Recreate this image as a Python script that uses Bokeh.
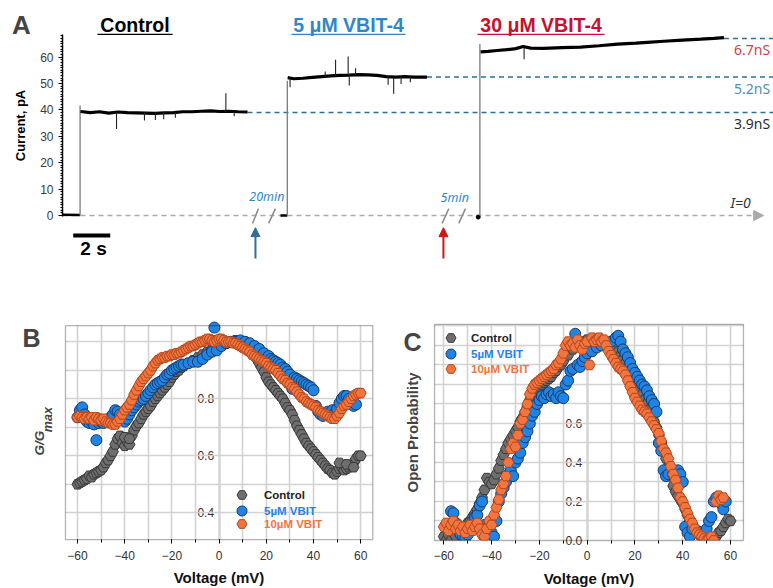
import math
from bokeh.plotting import figure
from bokeh.layouts import column, row
from bokeh.models import (Range1d, LinearAxis, SingleIntervalTicker, FixedTicker, Grid, Label,
                          Arrow, NormalHead, Legend, LegendItem, BoxAnnotation)
from bokeh.embed import file_html
from bokeh.resources import INLINE
from bokeh.core.properties import value

# ------------------------------------------------------------------ data
# Panel A : current traces (display time in s, current in pA)
ctrl_base_t = [0.0, 0.95]
ctrl_base_i = [0.3, 0.2]
ctrl_step_t = 0.95
ctrl_step_top = 41.7
ctrl_t = [0.97, 1.5, 2.0, 2.5, 3.0, 3.5, 4.0, 4.5, 5.0, 5.5, 6.0, 6.5, 7.0, 7.5, 8.0, 8.5, 9.0, 9.5, 10.0]
ctrl_i = [39.4, 39.0, 39.3, 38.8, 39.2, 39.0, 38.9, 38.8, 38.7, 38.9, 39.0, 39.3, 39.3, 39.5, 39.6, 39.4, 39.5, 39.3, 39.2]
ctrl_spk_t = [2.92, 4.43, 5.02, 5.47, 6.10, 8.83, 9.28]
ctrl_spk_lo = [32.8, 36.0, 36.2, 36.5, 37.0, 39.0, 37.6]
ctrl_spk_hi = [39.0, 39.0, 39.0, 39.0, 39.0, 46.3, 39.3]

vb5_base_t = [11.78, 12.15]
vb5_base_i = [0.0, 0.0]
vb5_step_t = 12.15
vb5_step_top = 51.0
vb5_t = [12.17, 12.5, 13.0, 13.5, 14.0, 14.5, 15.0, 15.5, 16.0, 16.5, 17.0, 17.5, 18.0, 18.5, 19.0, 19.7]
vb5_i = [52.2, 51.8, 52.0, 52.3, 52.6, 52.9, 53.1, 53.2, 53.4, 53.3, 53.1, 52.6, 52.4, 52.6, 52.4, 52.4]
vb5_spk_t = [12.30, 14.20, 14.76, 15.44, 15.50, 15.84, 17.60, 17.90, 18.30, 18.80]
vb5_spk_lo = [48.6, 52.6, 53.0, 53.2, 49.2, 53.3, 49.5, 46.1, 49.8, 50.5]
vb5_spk_hi = [52.0, 54.5, 59.0, 60.2, 53.2, 55.8, 52.6, 52.4, 52.6, 52.5]

vb30_base_t = [22.47]
vb30_base_i = [-0.6]
vb30_step_t = 22.56
vb30_step_top = 65.0
vb30_t = [22.6, 23.0, 23.5, 24.0, 24.5, 24.9, 25.3, 26.0, 27.0, 28.0, 29.0, 30.0, 31.0, 31.6, 32.5, 33.5, 34.5, 35.2, 35.75]
vb30_i = [62.0, 62.2, 62.5, 62.8, 63.2, 64.0, 63.4, 63.3, 63.6, 63.8, 64.3, 64.9, 65.3, 65.6, 66.0, 66.4, 66.8, 67.1, 67.4]
vb30_spk_t = [24.95]
vb30_spk_lo = [59.2]
vb30_spk_hi = [63.5]

# conductance reference levels
cond_level = [39.0, 52.5, 67.0]
cond_from = [10.0, 19.7, 35.75]
cond_text = ["3.9nS", "5.2nS", "6.7nS"]

titles = ["Control", "5 \u03bcM VBIT-4", "30 \u03bcM VBIT-4"]
title_from = [1.89, 12.38, 22.43]
title_to = [5.95, 18.54, 29.30]

gap_times = [10.43, 20.59]          # drug additions (arrows)
gap_text = ["20min", "5min"]
gap_text_t = [11.05, 21.20]
break_t0 = [10.27, 11.14, 20.52, 21.42]
break_t1 = [10.59, 11.51, 20.88, 21.78]
baseline_end = 37.9
scalebar_t0 = 0.58
scalebar_len = 2.0

# Panel B : G/Gmax vs voltage
bc_v = [-60, -59, -58, -57, -56, -55, -54, -53, -52, -51, -50, -49, -48, -47, -46, -45, -44, -43, -42, -41,
        -40, -39, -38, -37, -36, -35, -34, -33, -32, -31, -30, -29, -28, -27, -26, -25, -24, -23, -22, -21,
        -20, -19, -18, -17, -16, -15, -13, -11, -9, -7, -5, -3, -1, 1, 3, 5, 7, 9, 11, 13,
        14, 15, 16, 17, 18, 19, 20, 21, 22, 23, 24, 25, 26, 27, 28, 29, 30, 31, 32, 33,
        34, 35, 36, 37, 38, 39, 40, 41, 42, 43, 44, 45, 46, 47, 48, 49, 50, 51, 52, 53,
        54, 55, 56, 57, 58, 59, 60, -40, -38, 51, 54, 57]
bc_g = [0.50, 0.505, 0.51, 0.515, 0.52, 0.53, 0.525, 0.535, 0.54, 0.545, 0.55, 0.56, 0.575, 0.585, 0.60, 0.615, 0.64, 0.66, 0.67, 0.645,
        0.635, 0.65, 0.64, 0.67, 0.69, 0.705, 0.715, 0.73, 0.745, 0.755, 0.765, 0.775, 0.79, 0.80, 0.81, 0.82, 0.83, 0.84, 0.85, 0.86,
        0.875, 0.885, 0.895, 0.90, 0.91, 0.915, 0.925, 0.935, 0.945, 0.955, 0.965, 0.975, 0.985, 0.99, 0.995, 1.0, 1.005, 1.0, 1.0, 0.99,
        0.975, 0.955, 0.94, 0.925, 0.91, 0.895, 0.875, 0.86, 0.85, 0.84, 0.83, 0.82, 0.81, 0.80, 0.785, 0.77, 0.76, 0.745, 0.725, 0.705,
        0.69, 0.675, 0.66, 0.645, 0.635, 0.625, 0.615, 0.605, 0.595, 0.585, 0.575, 0.565, 0.555, 0.55, 0.54, 0.535, 0.545, 0.555, 0.56, 0.55,
        0.555, 0.56, 0.565, 0.575, 0.59, 0.60, 0.60, 0.665, 0.66, 0.575, 0.57, 0.56]

bb_v = [-60, -59, -58, -57, -56, -55, -54, -53, -52, -51, -50, -49, -48, -47, -46, -45, -44, -43, -42, -41,
        -40, -39, -38, -37, -36, -35, -34, -33, -32, -31, -30, -29, -28, -27, -26, -25, -24, -23, -22, -21,
        -20, -19, -18, -17, -16, -15, -13, -11, -9, -7, -5, -3, -2, -1, 1, 3, 5, 7, 9, 11,
        13, 15, 17, 19, 21, 22, 23, 24, 25, 26, 27, 28, 29, 30, 31, 32, 33, 34, 35, 36,
        37, 38, 39, 40, 41, 42, 43, 44, 46, 48, 49, 50, 51, 52, 53, 54, 55, 56, 57, 58]
bb_g = [0.735, 0.76, 0.77, 0.745, 0.72, 0.715, 0.72, 0.71, 0.655, 0.715, 0.72, 0.715, 0.72, 0.725, 0.735, 0.745, 0.76, 0.755, 0.745, 0.73,
        0.72, 0.73, 0.745, 0.76, 0.77, 0.78, 0.79, 0.795, 0.80, 0.81, 0.82, 0.83, 0.84, 0.85, 0.855, 0.86, 0.865, 0.875, 0.885, 0.89,
        0.90, 0.905, 0.91, 0.915, 0.92, 0.92, 0.925, 0.93, 0.93, 0.94, 0.955, 0.965, 1.05, 0.97, 0.985, 0.995, 1.0, 1.0, 1.005, 1.0,
        0.995, 0.985, 0.975, 0.96, 0.95, 0.94, 0.935, 0.93, 0.925, 0.92, 0.91, 0.905, 0.895, 0.885, 0.835, 0.875, 0.87, 0.865, 0.86, 0.855,
        0.85, 0.845, 0.84, 0.83, 0.775, 0.755, 0.745, 0.74, 0.755, 0.76, 0.75, 0.765, 0.785, 0.80, 0.81, 0.81, 0.80, 0.79, 0.775, 0.78]

bo_v = [-60, -59, -58, -57, -56, -55, -54, -53, -52, -51, -50, -49, -48, -47, -46, -45, -44, -43, -42, -41,
        -40, -39, -38, -37, -36, -35, -34, -33, -32, -31, -30, -29, -28, -27, -26, -25, -24, -23, -22, -21,
        -20, -19, -18, -17, -16, -15, -14, -13, -12, -11, -10, -9, -8, -7, -6, -5, -4, -3, -2, -1,
        0, 1, 2, 3, 4, 5, 6, 7, 8, 9, 10, 11, 12, 13, 14, 15, 16, 17, 18, 19,
        20, 21, 22, 23, 24, 25, 26, 27, 28, 29, 30, 31, 32, 33, 34, 35, 36, 37, 38, 39,
        40, 41, 42, 43, 44, 45, 46, 47, 48, 49, 50, 51, 52, 53, 54, 55, 56, 57, 58, 59, 60]
bo_g = [0.735, 0.74, 0.735, 0.73, 0.735, 0.73, 0.735, 0.725, 0.735, 0.73, 0.725, 0.73, 0.72, 0.715, 0.715, 0.71, 0.71, 0.72, 0.73, 0.745,
        0.76, 0.77, 0.78, 0.795, 0.815, 0.83, 0.845, 0.86, 0.87, 0.88, 0.89, 0.90, 0.915, 0.925, 0.935, 0.94, 0.945, 0.945, 0.95, 0.95,
        0.955, 0.955, 0.96, 0.96, 0.965, 0.97, 0.975, 0.98, 0.985, 0.985, 0.99, 0.995, 1.0, 1.0, 1.005, 1.01, 1.01, 1.005, 1.0, 1.005,
        1.01, 1.01, 1.005, 1.0, 1.0, 1.0, 0.995, 0.995, 0.99, 0.985, 0.98, 0.975, 0.97, 0.965, 0.955, 0.95, 0.945, 0.94, 0.935, 0.93,
        0.925, 0.915, 0.91, 0.905, 0.90, 0.89, 0.88, 0.87, 0.865, 0.855, 0.85, 0.84, 0.835, 0.825, 0.815, 0.805, 0.80, 0.79, 0.785, 0.78,
        0.775, 0.77, 0.76, 0.755, 0.75, 0.745, 0.74, 0.735, 0.73, 0.73, 0.74, 0.75, 0.765, 0.775, 0.78, 0.79, 0.80, 0.81, 0.815, 0.82, 0.82]

# Panel C : open probability vs voltage
cc_v = [-60, -59, -58, -57, -56, -55, -54, -53, -52, -51, -50, -49, -48, -47, -46, -45, -44, -43, -42, -41,
        -40, -39, -38, -37, -36, -35, -34, -33, -32, -31, -30, -29, -28, -27, -26, -25, -24, -23, -22, -21,
        -20, -19, -18, -17, -16, -15, -14, -13, -12, -11, -10, -8, -6, -4, -2, 0, 2, 4, 6, 8,
        10, 12, 13, 14, 15, 16, 17, 18, 19, 20, 21, 22, 23, 24, 25, 26, 27, 28, 29, 30,
        31, 32, 33, 34, 35, 36, 37, 38, 39, 40, 41, 42, 43, 44, 45, 46, 47, 48, 49, 50,
        51, 52, 53, 54, 55, 56, 57, 58, 59, 60]
cc_p = [0.02, 0.0, 0.03, 0.0, 0.04, 0.02, 0.05, 0.04, 0.03, 0.06, 0.09, 0.10, 0.12, 0.14, 0.16, 0.19, 0.22, 0.26, 0.32, 0.30,
        0.29, 0.31, 0.34, 0.37, 0.41, 0.44, 0.47, 0.50, 0.52, 0.54, 0.56, 0.58, 0.61, 0.63, 0.66, 0.69, 0.72, 0.74, 0.76, 0.78,
        0.79, 0.80, 0.81, 0.82, 0.83, 0.84, 0.86, 0.87, 0.89, 0.90, 0.92, 0.95, 0.98, 1.0, 1.02, 1.03, 1.03, 1.03, 1.02, 1.01,
        1.0, 0.99, 0.97, 0.95, 0.93, 0.91, 0.89, 0.87, 0.85, 0.82, 0.80, 0.78, 0.75, 0.72, 0.70, 0.67, 0.64, 0.61, 0.58, 0.54,
        0.50, 0.46, 0.42, 0.38, 0.33, 0.28, 0.25, 0.23, 0.21, 0.19, 0.16, 0.13, 0.10, 0.08, 0.06, 0.04, 0.03, 0.02, 0.01, 0.0,
        0.0, 0.01, 0.0, 0.02, 0.04, 0.05, 0.07, 0.09, 0.11, 0.10]

cb_v = [-57, -56, -55, -54, -53, -52, -51, -50, -49, -48, -47, -46, -45, -44, -43, -42, -41, -40, -39, -38,
        -37, -36, -35, -34, -33, -32, -31, -30, -29, -28, -27, -26, -25, -24, -23, -22, -21, -20, -19, -18,
        -17, -16, -15, -14, -13, -12, -11, -10, -9, -8, -7, -6, -5, -4, -3, -2, -1, 0, 2, 4,
        6, 8, 10, 12, 13, 14, 15, 16, 17, 18, 19, 20, 21, 22, 23, 24, 25, 26, 27, 28,
        29, 30, 31, 32, 33, 34, 36, 38, 39, 40, 41, 42, 43, 44, 46, 48, 50, 51, 52, 53,
        54, 55, 56, 57, 58]
cb_p = [0.15, 0.14, 0.09, 0.06, 0.03, 0.02, 0.01, 0.03, 0.06, 0.10, 0.12, 0.13, 0.18, 0.20, 0.08, 0.06, 0.05, 0.04, 0.02, 0.10,
        0.20, 0.24, 0.27, 0.30, 0.34, 0.36, 0.33, 0.40, 0.42, 0.45, 0.50, 0.53, 0.56, 0.60, 0.64, 0.66, 0.70, 0.72, 0.74, 0.73,
        0.75, 0.76, 0.74, 0.75, 0.73, 0.76, 0.74, 0.73, 0.80, 0.82, 0.87, 0.88, 1.06, 0.90, 0.89, 0.92, 0.94, 0.96, 0.97, 0.99,
        1.0, 1.01, 1.02, 1.04, 1.05, 1.02, 0.98, 0.96, 0.94, 0.91, 0.88, 0.86, 0.84, 0.82, 0.80, 0.79, 0.77, 0.74, 0.72, 0.70,
        0.66, 0.50, 0.46, 0.36, 0.33, 0.34, 0.34, 0.36, 0.34, 0.30, 0.07, 0.04, 0.02, 0.06, 0.05, 0.02, 0.06, 0.10, 0.12, 0.20,
        0.22, 0.21, 0.19, 0.16, 0.20]

co_v = [-60, -59, -58, -57, -56, -55, -54, -53, -52, -51, -50, -49, -48, -47, -46, -45, -44, -43, -42, -41,
        -40, -39, -38, -37, -36, -35, -34, -33, -32, -31, -30, -29, -28, -27, -26, -25, -24, -23, -22, -21,
        -20, -19, -18, -17, -16, -15, -14, -13, -12, -11, -10, -9, -8, -7, -6, -5, -4, -3, -2, -1,
        0, 1, 2, 3, 4, 5, 6, 7, 8, 9, 10, 11, 12, 13, 14, 15, 16, 17, 18, 19,
        20, 21, 22, 23, 24, 25, 26, 27, 28, 29, 30, 31, 32, 33, 34, 35, 36, 37, 38, 39,
        40, 41, 42, 43, 44, 45, 46, 47, 48, 49, 50, 51, 52, 53, 54, 55, 56, 57]
co_p = [0.07, 0.09, 0.05, 0.08, 0.10, 0.06, 0.08, 0.05, 0.07, 0.04, 0.06, 0.08, 0.05, 0.07, 0.09, 0.06, 0.03, 0.02, 0.06, 0.10,
        0.08, 0.13, 0.17, 0.21, 0.26, 0.29, 0.33, 0.40, 0.47, 0.50, 0.48, 0.54, 0.60, 0.62, 0.66, 0.70, 0.75, 0.78, 0.80, 0.81,
        0.82, 0.83, 0.84, 0.85, 0.86, 0.87, 0.88, 0.90, 0.91, 0.93, 0.96, 1.00, 1.02, 1.00, 1.01, 0.99, 1.03, 1.00, 0.98, 1.01,
        1.02, 0.90, 1.04, 1.02, 1.03, 1.04, 1.02, 1.03, 1.00, 0.97, 0.95, 0.93, 0.91, 0.89, 0.88, 0.87, 0.85, 0.82, 0.79, 0.76,
        0.73, 0.71, 0.69, 0.67, 0.66, 0.65, 0.63, 0.61, 0.59, 0.57, 0.55, 0.51, 0.47, 0.45, 0.42, 0.38, 0.34, 0.31, 0.27, 0.22,
        0.20, 0.17, 0.14, 0.11, 0.09, 0.06, 0.04, 0.03, 0.02, 0.01, 0.0, 0.01, 0.02, 0.0, 0.20, 0.23, 0.21, 0.22]

legend_names = ["Control", "5\u00b5M VBIT", "10\u00b5M VBIT"]
volt_grid = [-60, -50, -40, -30, -20, -10, 0, 10, 20, 30, 40, 50, 60]

# ------------------------------------------------------------------ styles
FONT = "Liberation Sans"
GRAY_F, GRAY_L = "#6e6e6e", "#3a3a3a"
BLUE_F, BLUE_L = "#1e84e6", "#1b3a66"
ORNG_F, ORNG_L = "#f3753e", "#b3471f"
TEAL = "#2f6f95"
BLUE_T = "#2f87c9"

# ------------------------------------------------------------------ panel A
pa = figure(width=773, height=294, x_range=Range1d(-3.351, 38.43), y_range=Range1d(-29.92, 81.44),
            output_backend="svg", toolbar_location=None, x_axis_type=None, y_axis_type=None,
            min_border=0, min_border_left=0, min_border_right=0, min_border_top=0, min_border_bottom=0)
pa.outline_line_color = None

ya = LinearAxis(fixed_location=0, bounds=(-0.5, 68.5),
                ticker=SingleIntervalTicker(interval=10, num_minor_ticks=10),
                axis_label="Current, pA")
ya.axis_line_color = "black"
ya.axis_line_width = 1.5
ya.major_tick_out = 4
ya.major_tick_in = 0
ya.minor_tick_out = 2
ya.minor_tick_in = 0
ya.major_tick_line_width = 1.2
ya.major_label_text_font = FONT
ya.major_label_text_font_size = "12px"
ya.major_label_text_color = "#3a3a3a"
ya.major_label_standoff = 5
ya.axis_label_text_font = FONT
ya.axis_label_text_font_size = "13px"
ya.axis_label_text_font_style = "bold"
ya.axis_label_text_color = "black"
ya.axis_label_standoff = 9
pa.add_layout(ya, "left")

# I=0 baseline (dashed arrow)
pa.add_layout(Arrow(x_start=0, y_start=0, x_end=baseline_end, y_end=0,
                    line_color="#aaaaaa", line_width=1.5, line_dash="5 4", level="underlay",
                    end=NormalHead(size=10, fill_color="#aaaaaa", line_color="#aaaaaa")))

# conductance reference dashed lines
for lv, t0 in zip(cond_level, cond_from):
    pa.segment(x0=[t0], y0=[lv], x1=[38.43], y1=[lv], line_color=TEAL, line_width=1.5, line_dash="5 4")
cond_col = ["#2b2b2b", "#4f8fb8", "#d0414a"]
pa.text(x=[36.3] * 3, y=[lv - 4.3 for lv in cond_level], text=cond_text, text_color=cond_col,
        text_font=value("Noto Sans"), text_font_size="14px", text_baseline="middle", text_align="left")

# traces
for bt, bi in [(ctrl_base_t, ctrl_base_i), (vb5_base_t, vb5_base_i)]:
    pa.line(bt, bi, line_color="black", line_width=2.5)
pa.scatter(vb30_base_t, vb30_base_i, size=4, color="black")
pa.segment(x0=[ctrl_step_t, vb5_step_t, vb30_step_t], y0=[0, 0, 0],
           x1=[ctrl_step_t, vb5_step_t, vb30_step_t], y1=[ctrl_step_top, vb5_step_top, vb30_step_top],
           line_color="#7a7a7a", line_width=1.3)
for tt, ii in [(ctrl_t, ctrl_i), (vb5_t, vb5_i), (vb30_t, vb30_i)]:
    pa.line(tt, ii, line_color="black", line_width=3.2)
for st, lo, hi in [(ctrl_spk_t, ctrl_spk_lo, ctrl_spk_hi), (vb5_spk_t, vb5_spk_lo, vb5_spk_hi),
                   (vb30_spk_t, vb30_spk_lo, vb30_spk_hi)]:
    pa.segment(x0=st, y0=lo, x1=st, y1=hi, line_color="#222222", line_width=1.1)

# break marks
pa.segment(x0=break_t0, y0=[-3.0] * 4, x1=break_t1, y1=[2.6] * 4, line_color="#8a8a8a", line_width=1.5)

# drug addition arrows
for tx, col in zip(gap_times, [TEAL, "#d01515"]):
    pa.add_layout(Arrow(x_start=tx, y_start=-16.3, x_end=tx, y_end=-4.6, line_color=col, line_width=2,
                        end=NormalHead(size=9, fill_color=col, line_color=col)))
pa.text(x=gap_text_t, y=[7.2, 6.8], text=gap_text, text_color=BLUE_T, text_font=value("Noto Sans"),
        text_font_size="12.5px", text_font_style="italic", text_align="center", text_baseline="middle")
pa.text(x=[36.65], y=[4.9], text=["I=0"], text_color="#333333", text_font=value("Noto Sans"),
        text_font_size="14px", text_font_style="italic", text_align="center", text_baseline="middle")

# scale bar
pa.segment(x0=[scalebar_t0], y0=[-7.6], x1=[scalebar_t0 + scalebar_len], y1=[-7.6], line_color="black", line_width=4)
pa.text(x=[scalebar_t0 + scalebar_len / 2 + 0.1], y=[-12.6], text=["2 s"], text_font=value(FONT),
        text_font_size="19px", text_font_style="bold", text_align="center", text_baseline="middle")

# titles with underline
tcols = ["black", BLUE_T, "#c8102e"]
pa.text(x=[(a + b) / 2 for a, b in zip(title_from, title_to)], y=[72.2] * 3, text=titles, text_color=tcols,
        text_font=value(FONT), text_font_size="19.5px", text_font_style="bold",
        text_align="center", text_baseline="middle")
pa.segment(x0=title_from, y0=[68.6] * 3, x1=title_to, y1=[68.6] * 3, line_color=tcols, line_width=1.3)
pa.add_layout(Label(x=-2.22, y=72.0, text="A", text_font=FONT, text_font_size="26px",
                    text_font_style="bold", text_align="center", text_baseline="middle"))


# ------------------------------------------------------------------ panels B & C
def style_panel(p, box, ylabels, ygrid):
    x0, x1, y0, y1 = box
    p.outline_line_color = None
    if "cross_bounds" in Grid.properties():
        p.add_layout(Grid(dimension=0, ticker=FixedTicker(ticks=volt_grid), bounds=(x0, x1),
                          cross_bounds=(y0, y1), grid_line_color="#d2d2d2", grid_line_width=1.6))
        p.add_layout(Grid(dimension=1, ticker=FixedTicker(ticks=ygrid), bounds=(y0 - 0.01, y1),
                          cross_bounds=(x0, x1), grid_line_color="#d2d2d2", grid_line_width=1.6))
    else:
        p.segment(x0=volt_grid, y0=[y0] * len(volt_grid), x1=volt_grid, y1=[y1] * len(volt_grid),
                  line_color="#d2d2d2", line_width=1.6, level="underlay")
        p.segment(x0=[x0] * len(ygrid), y0=ygrid, x1=[x1] * len(ygrid), y1=ygrid,
                  line_color="#d2d2d2", line_width=1.6, level="underlay")
    p.add_layout(BoxAnnotation(left=x0, right=x1, bottom=y0, top=y1, fill_alpha=0,
                               line_color="black", line_width=1.3))
    xa = LinearAxis(fixed_location=y0, bounds=(x0, x1),
                    ticker=SingleIntervalTicker(interval=20, num_minor_ticks=2))
    xa.axis_line_color = None
    xa.major_tick_out = 4
    xa.major_tick_in = 0
    xa.minor_tick_out = 3
    xa.minor_tick_in = 0
    xa.major_label_text_font = FONT
    xa.major_label_text_font_size = "12px"
    xa.major_label_text_color = "#333333"
    xa.major_label_standoff = 7
    xa.axis_label = "Voltage (mV)"
    xa.axis_label_text_font = FONT
    xa.axis_label_text_font_size = "15px"
    xa.axis_label_text_font_style = "bold"
    xa.axis_label_text_color = "#111111"
    xa.axis_label_standoff = 6
    p.add_layout(xa, "below")
    ax = LinearAxis(fixed_location=0, bounds=(y0, y1),
                    ticker=FixedTicker(ticks=ylabels, minor_ticks=ygrid), level="underlay")
    ax.axis_line_color = "black"
    ax.axis_line_width = 1.2
    ax.major_tick_in = 4
    ax.major_tick_out = 0
    ax.minor_tick_in = 4
    ax.minor_tick_out = 0
    ax.major_label_text_font = FONT
    ax.major_label_text_font_size = "12px"
    ax.major_label_text_color = "#333333"
    ax.major_label_standoff = 5
    p.add_layout(ax, "left")


def add_series(p, xs, ys, marker, fc, lc):
    return p.scatter(xs, ys, marker=marker, size=11, fill_color=fc, line_color=lc, line_width=1)


def add_legend(p, renderers, locs, standoff):
    cols = ["#222222", "#1e84e6", "#f3753e"]
    for r, name, loc, col in zip(renderers, legend_names, locs, cols):
        lg = Legend(items=[LegendItem(label=name, renderers=[r])], location=loc,
                    label_text_color=col, label_text_font=FONT, label_text_font_size="11.5px",
                    label_text_font_style="bold", glyph_width=25, glyph_height=25, label_height=14,
                    label_standoff=standoff, padding=0, margin=0, spacing=0,
                    background_fill_alpha=0, border_line_alpha=0)
        p.add_layout(lg, "center")


def make_panel(width, xr, yr):
    return figure(width=width, height=294, x_range=Range1d(*xr), y_range=Range1d(*yr),
                  output_backend="svg", toolbar_location=None, x_axis_type=None, y_axis_type=None,
                  min_border=0, min_border_left=0, min_border_right=0, min_border_top=0, min_border_bottom=0)


pb = make_panel(380, (-92.63, 68.39), (0.1344, 1.166))
style_panel(pb, (-65.1, 65.1, 0.306, 1.057), [0.4, 0.6, 0.8], [0.4, 0.5, 0.6, 0.7, 0.8, 0.9, 1.0])
rb1 = add_series(pb, bc_v, bc_g, "hex", GRAY_F, GRAY_L)
rb2 = add_series(pb, bb_v, bb_g, "circle", BLUE_F, BLUE_L)
rb3 = add_series(pb, bo_v, bo_g, "hex", ORNG_F, ORNG_L)
add_legend(pb, [rb1, rb2, rb3], [(229, 81), (229, 65), (229, 52)], 10)
pb.add_layout(Label(x=-79.5, y=1.012, text="B", text_font=FONT, text_font_size="25px", text_font_style="bold",
                    text_align="center", text_baseline="middle"))
pb.add_layout(Label(x=-76.0, y=0.601, text="G/G", text_font=FONT, text_font_size="13.5px",
                    text_font_style="bold italic", angle=math.pi / 2, text_align="left", text_baseline="middle"))
pb.add_layout(Label(x=-72.6, y=0.683, text="max", text_font=FONT, text_font_size="12.5px",
                    text_font_style="bold italic", angle=math.pi / 2, text_align="left", text_baseline="middle"))

pc = make_panel(393, (-86.52, 77.98), (-0.2462, 1.2615))
rc1 = add_series(pc, cc_v, cc_p, "hex", GRAY_F, GRAY_L)
rc2 = add_series(pc, cb_v, cb_p, "circle", BLUE_F, BLUE_L)
rc3 = add_series(pc, co_v, co_p, "hex", ORNG_F, ORNG_L)
# white strip under the plot box so markers at P=0 are cut at the box edge, as in a clipped frame
pc.quad(left=[-86.52], right=[77.98], bottom=[-0.2462], top=[0.0], fill_color="white", line_color=None)
style_panel(pc, (-63.9, 65.4, 0.0, 1.108), [0.2, 0.4, 0.6],
            [0.1, 0.2, 0.3, 0.4, 0.5, 0.6, 0.7, 0.8, 0.9, 1.0, 1.1])
# tick label on the lower edge of the box (drawn above the white strip)
pc.text(x=[0.0], y=[0.0], text=["0.0"], x_offset=-5, text_align="right", text_baseline="middle",
        text_font=value(FONT), text_font_size="12px", text_color="#333333")
add_legend(pc, [rc1, rc2, rc3], [(58, 238), (58, 222), (58, 207)], 8)
pc.add_layout(Label(x=-73.1, y=1.02, text="C", text_font=FONT, text_font_size="25px", text_font_style="bold",
                    text_align="center", text_baseline="middle"))
pc.add_layout(Label(x=-73.1, y=0.554, text="Open Probability", text_font=FONT, text_font_size="15px",
                    text_font_style="bold", angle=math.pi / 2, text_align="center", text_baseline="middle"))

layout = column(pa, row(pb, pc, spacing=0), spacing=0)
open("out.html", "w").write(file_html(layout, INLINE))
